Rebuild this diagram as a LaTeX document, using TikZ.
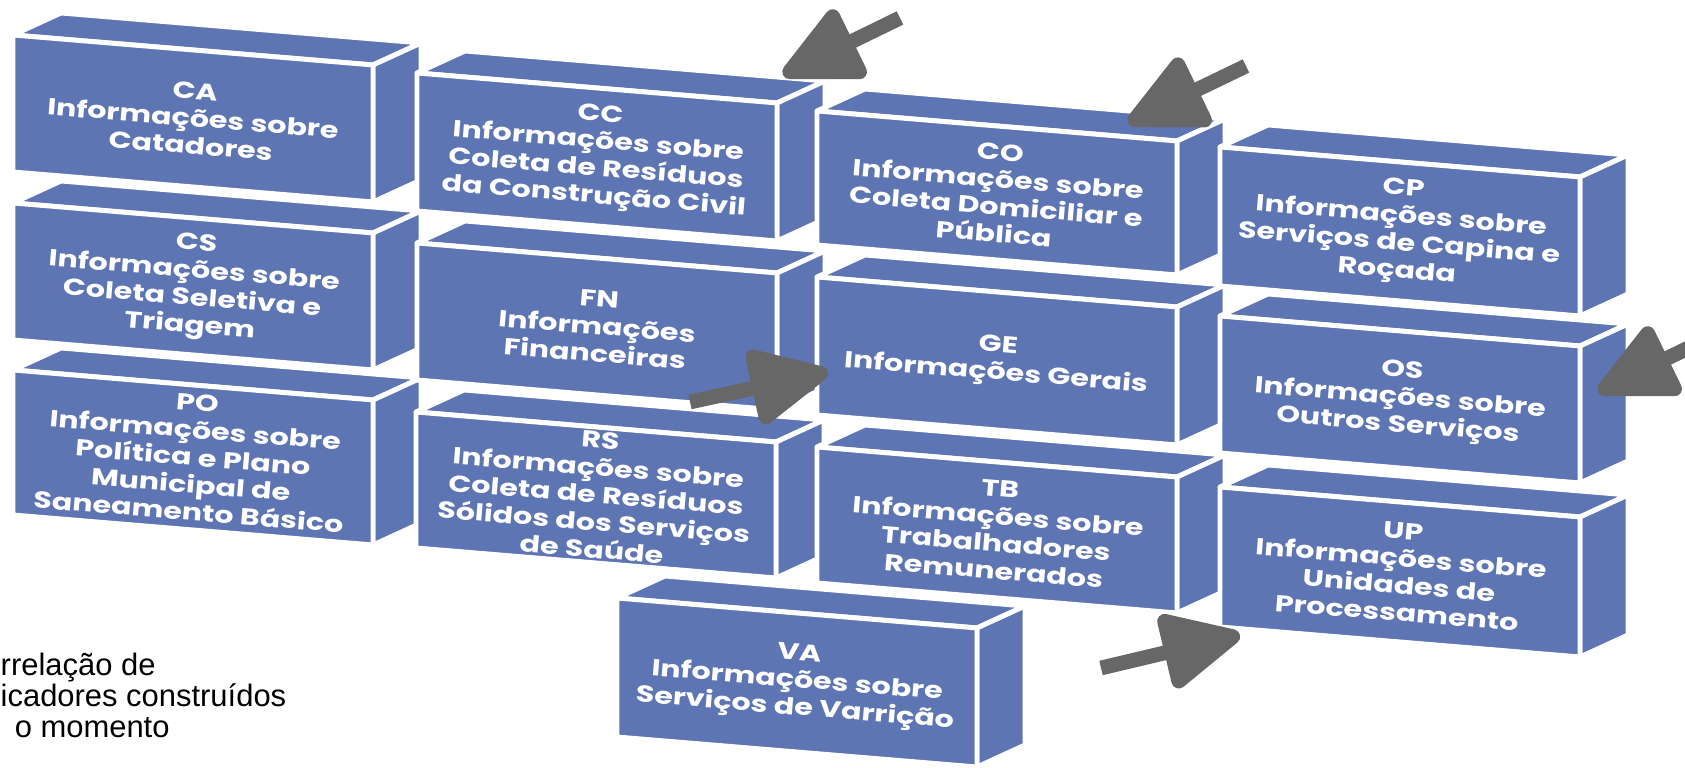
\documentclass[tikz,border=0pt]{standalone}
\usepackage{fontspec}
\usetikzlibrary{calc,arrows.meta}
\newfontfamily\fonteCaixa{Poppins}[FakeStretch=1.3]
\newfontfamily\fonteNota{Liberation Sans}
\definecolor{azulCaixa}{RGB}{94,117,179}
\definecolor{cinzaSeta}{RGB}{103,103,103}

\newcommand\caixa[4]{%
  \coordinate (#1-a) at #2;
  \coordinate (#1-b) at ($(#1-a)+(360,30)$);
  \coordinate (#1-c) at ($(#1-b)+(0,#3)$);
  \coordinate (#1-d) at ($(#1-a)+(0,#3)$);
  \filldraw[bloco] (#1-a) -- ++(48,-22) -- ($(#1-b)+(48,-22)$) -- (#1-b) -- cycle;
  \filldraw[bloco] (#1-b) -- ++(48,-22) -- ($(#1-c)+(48,-22)$) -- (#1-c) -- cycle;
  \filldraw[bloco] (#1-a) -- (#1-b) -- (#1-c) -- (#1-d) -- cycle;
  \node[rotulo] (#1) at ($(#1-a)!0.5!(#1-c)$) {#4};
}

\begin{document}
\begin{tikzpicture}[x=0.01cm, y=-0.01cm,
  bloco/.style={fill=azulCaixa, draw=white, line width=1.4pt, line join=round},
  rotulo/.style={text=white, align=center, rotate=-4.7, inner sep=0pt,
    font=\fonteCaixa\bfseries\fontsize{6.6}{7.8}\selectfont},
  seta/.style={draw=cinzaSeta, line width=4.2pt, -{Triangle[length=25pt, width=23pt, round]}},
  nota/.style={align=left, anchor=north west, inner sep=0pt,
    font=\fonteNota\fontsize{8.8}{8.8}\selectfont}]
  \useasboundingbox (0,0) rectangle (1685,768);
  \clip (0,0) rectangle (1685,768);

  \caixa{CA}{(13,35)}{137}{CA\\Informações sobre\\Catadores}
  \caixa{CS}{(13,203)}{137}{CS\\Informações sobre\\Coleta Seletiva e\\Triagem}
  \caixa{PO}{(13,370)}{145}{PO\\Informações sobre\\Política e Plano\\Municipal de\\Saneamento Básico}
  \caixa{CC}{(417,73)}{138}{CC\\Informações sobre\\Coleta de Resíduos\\da Construção Civil}
  \caixa{FN}{(417,243)}{137}{FN\\Informações\\Financeiras}
  \caixa{RS}{(416,412)}{136}{RS\\Informações sobre\\Coleta de Resíduos\\Sólidos dos Serviços\\de Saúde}
  \caixa{CO}{(817,111)}{134}{CO\\Informações sobre\\Coleta Domiciliar e\\Pública}
  \caixa{GE}{(817,277)}{138}{GE\\Informações Gerais}
  \caixa{TB}{(817,447)}{136}{TB\\Informações sobre\\Trabalhadores\\Remunerados}
  \caixa{CP}{(1220,147)}{139}{CP\\Informações sobre\\Serviços de Capina e\\Roçada}
  \caixa{OS}{(1220,316)}{137}{OS\\Informações sobre\\Outros Serviços}
  \caixa{UP}{(1220,487)}{140}{UP\\Informações sobre\\Unidades de\\Processamento}
  \caixa{VA}{(617,598)}{139}{VA\\Informações sobre\\Serviços de Varrição}

  \coordinate (s1-ini) at (900,18);
  \coordinate (s1-fim) at (783,75);
  \coordinate (s2-ini) at (1246,66);
  \coordinate (s2-fim) at (1128,123);
  \coordinate (s3-ini) at (690,402);
  \coordinate (s3-fim) at (828,372);
  \coordinate (s4-ini) at (1715,335);
  \coordinate (s4-fim) at (1598,392);
  \coordinate (s5-ini) at (1101,668);
  \coordinate (s5-fim) at (1240,635);
  \draw[seta] (s1-ini) -- (s1-fim);
  \draw[seta] (s2-ini) -- (s2-fim);
  \draw[seta] (s3-ini) -- (s3-fim);
  \draw[seta] (s4-ini) -- (s4-fim);
  \draw[seta] (s5-ini) -- (s5-fim);

  \node[nota] (nota) at (0,652) {rrelação de\\icadores construídos\\\hspace*{4pt}o momento};
\end{tikzpicture}
\end{document}
